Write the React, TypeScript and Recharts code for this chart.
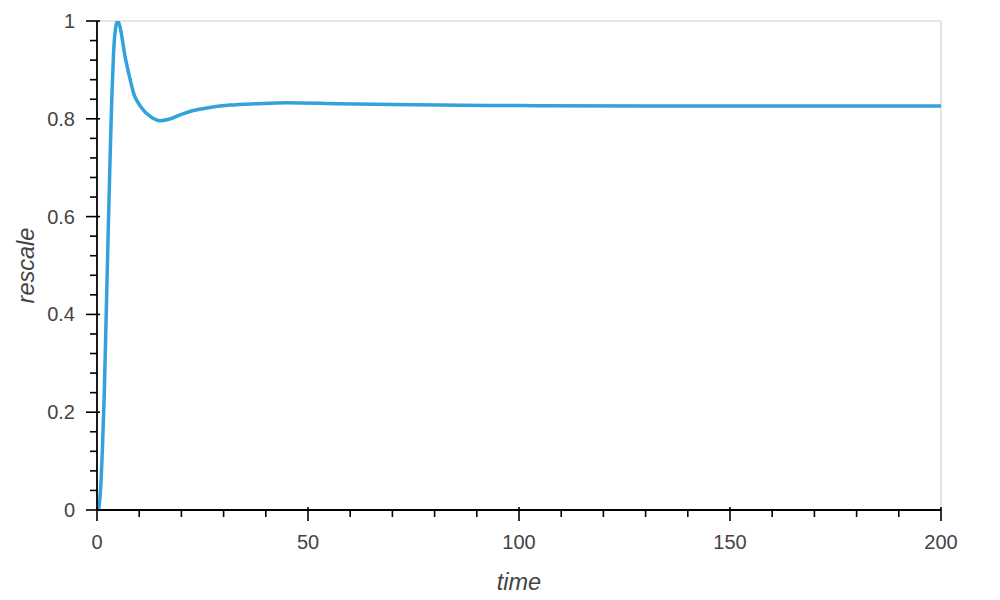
import { LineChart, Line, XAxis, YAxis, ReferenceLine, Label } from 'recharts'

// values
const time = [0.4, 0.9, 1.3, 1.7, 2.1, 2.6, 3.1, 3.5, 3.9, 4.4, 4.9, 5.4, 5.85, 6.6, 7.6, 8.8, 9.6, 10.6, 11.5, 12.5, 13.5, 14.9, 17, 20, 22, 26, 31.5, 38, 45, 57, 70, 81, 100, 130, 160, 200]
const rescale = [0, 0.05, 0.13, 0.23, 0.37, 0.55, 0.72, 0.84, 0.93, 0.985, 1.0, 0.99, 0.97, 0.93, 0.89, 0.849, 0.835, 0.822, 0.813, 0.806, 0.8, 0.796, 0.799, 0.809, 0.815, 0.822, 0.828, 0.831, 0.833, 0.831, 0.829, 0.828, 0.827, 0.826, 0.826, 0.826]

const xMajorTicks = [0, 50, 100, 150, 200]
const xAllTicks = [0, 10, 20, 30, 40, 50, 60, 70, 80, 90, 100, 110, 120, 130, 140, 150, 160, 170, 180, 190, 200]
const yMajorTicks = [0, 0.2, 0.4, 0.6, 0.8, 1]
const yAllTicks = [0, 0.04, 0.08, 0.12, 0.16, 0.2, 0.24, 0.28, 0.32, 0.36, 0.4, 0.44, 0.48, 0.52, 0.56, 0.6, 0.64, 0.68, 0.72, 0.76, 0.8, 0.84, 0.88, 0.92, 0.96, 1]

const data = time.map((t, i) => ({ time: t, rescale: rescale[i] }))

const FONT = '"Liberation Sans", Helvetica, Arial, sans-serif'
const isMajor = (list: number[], v: number) => list.some(m => Math.abs(m - v) < 1e-6)

const XTick = (props: any) => {
    const { x, y, payload } = props
    const major = isMajor(xMajorTicks, payload.value)
    return (
        <g>
            <line x1={x} x2={x} y1={major ? y - 3 : y} y2={major ? y + 11 : y + 7} stroke='#000' strokeWidth={1.6} />
            {major && <text x={x} y={y + 39} textAnchor='middle' fill='#444' fontSize={20} fontFamily={FONT}>{payload.value}</text>}
        </g>
    )
}

const YTick = (props: any) => {
    const { x, y, payload } = props
    const major = isMajor(yMajorTicks, payload.value)
    const label = String(Math.round(payload.value * 10) / 10)
    return (
        <g>
            <line x1={major ? x + 3 : x} x2={major ? x - 11 : x - 7} y1={y} y2={y} stroke='#000' strokeWidth={1.6} />
            {major && <text x={x - 22} y={y + 7} textAnchor='end' fill='#444' fontSize={20} fontFamily={FONT}>{label}</text>}
        </g>
    )
}

const XTitle = ({ viewBox }: any) => (
    <text x={viewBox.x + viewBox.width / 2} y={viewBox.y + 80} textAnchor='middle' fontStyle='italic' fill='#444' fontSize={23.5} fontFamily={FONT}>time</text>
)

const YTitle = ({ viewBox }: any) => {
    const cx = viewBox.x + viewBox.width - 63
    const cy = viewBox.y + viewBox.height / 2
    return (
        <text x={cx} y={cy} transform={`rotate(-90, ${cx}, ${cy})`} textAnchor='middle' fontStyle='italic' fill='#444' fontSize={23.5} fontFamily={FONT}>rescale</text>
    )
}

const App = () => {
    return (
        <div style={{ position: 'absolute', left: 0, top: 0, width: 1000, height: 600, background: '#fff' }}>
            <LineChart width={1000} height={600} data={data} margin={{ top: 21, right: 59, bottom: 0, left: 0 }}>
                <ReferenceLine y={1} stroke='#e5e5e5' strokeWidth={2} />
                <ReferenceLine x={200} stroke='#e5e5e5' strokeWidth={2} />
                <XAxis dataKey='time' type='number' domain={[0, 200]} ticks={xAllTicks} interval={0} height={90}
                    tickSize={0} tickMargin={0} tickLine={false} tick={<XTick />}
                    axisLine={{ stroke: '#000', strokeWidth: 1.8 }}>
                    <Label content={<XTitle />} />
                </XAxis>
                <YAxis type='number' domain={[0, 1]} ticks={yAllTicks} interval={0} width={97} allowDataOverflow
                    tickSize={0} tickMargin={0} tickLine={false} tick={<YTick />}
                    axisLine={{ stroke: '#000', strokeWidth: 1.8 }}>
                    <Label content={<YTitle />} />
                </YAxis>
                <Line type='monotone' dataKey='rescale' stroke='#33a2dc' strokeWidth={3.5} dot={false} isAnimationActive={false} />
            </LineChart>
        </div>
    )
}

export default App
